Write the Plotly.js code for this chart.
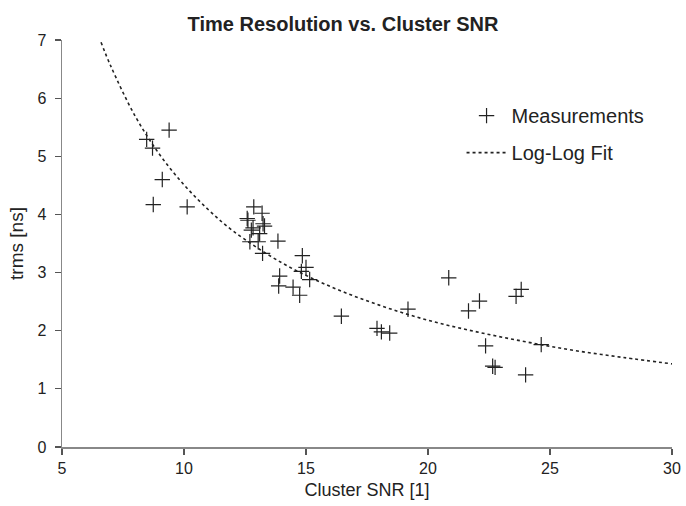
<!DOCTYPE html>
<html>
<head>
<meta charset="utf-8">
<script src="https://cdn.plot.ly/plotly-3.0.1.min.js"></script>
<style>html,body{margin:0;padding:0;background:#fff;}#chart{width:686px;height:506px;}</style>
</head>
<body>
<div id="chart"></div>
<script>
const snr = [9.39, 8.47, 8.71, 9.11, 8.74, 10.13,
  12.86, 13.20, 12.59, 13.24, 12.83, 12.76, 13.10, 12.70, 13.04, 13.85, 13.22, 12.62, 13.30,
  14.85, 15.00, 14.81, 15.15, 13.92, 13.88, 14.47, 14.74,
  16.45, 20.85, 19.18, 17.91, 18.09, 18.43,
  23.82, 23.61, 22.11, 21.66, 22.36, 22.65, 22.75, 24.00, 24.64];
const trms = [5.45, 5.29, 5.14, 4.60, 4.17, 4.13,
  4.13, 4.02, 3.93, 3.84, 3.77, 3.73, 3.67, 3.53, 3.53, 3.54, 3.33, 3.90, 3.80,
  3.29, 3.09, 3.02, 2.88, 2.94, 2.77, 2.75, 2.61,
  2.25, 2.91, 2.37, 2.04, 1.98, 1.96,
  2.71, 2.59, 2.51, 2.34, 1.74, 1.39, 1.37, 1.24, 1.76];
// Log-log fit curve
const fitX = [6.6, 7, 8, 9, 10, 11, 12, 14, 16, 18, 20, 22, 24, 26, 28, 30];
const fitY = [6.96, 6.55, 5.69, 5.03, 4.51, 4.08, 3.72, 3.17, 2.76, 2.44, 2.18, 1.98, 1.81, 1.66, 1.54, 1.43];
const xTicks = [5, 10, 15, 20, 25, 30];
const yTicks = [0, 1, 2, 3, 4, 5, 6, 7];

const font = 'Liberation Sans, Arial, Helvetica, sans-serif';
const ink = '#222';

const traces = [
  {x: snr, y: trms, type: 'scatter', mode: 'markers', name: 'Measurements', legendgroup: 'a',
   marker: {symbol: 'cross-thin-open', size: 11, color: ink, line: {width: 1.2, color: ink}}},
  {x: fitX, y: fitY, type: 'scatter', mode: 'lines', name: 'Log-Log Fit', legendgroup: 'b',
   line: {shape: 'spline', dash: '3px,3px', width: 1.6, color: ink}}
];

const axisCommon = {
  showgrid: false, zeroline: false, showline: true, linecolor: '#888', linewidth: 1.5,
  ticks: 'outside', ticklen: 6, tickcolor: '#555', tickwidth: 1.2,
  tickfont: {family: font, size: 16, color: ink}
};

const layout = {
  width: 686, height: 506,
  margin: {l: 62, r: 14, t: 40, b: 59},
  paper_bgcolor: '#fff', plot_bgcolor: '#fff',
  showlegend: true,
  title: {text: '<b>Time Resolution vs. Cluster SNR</b>', font: {family: font, size: 20, color: ink},
          x: 0.5, xref: 'container', xanchor: 'center', y: 0.952, yanchor: 'middle'},
  xaxis: Object.assign({}, axisCommon, {range: [5, 30], tickvals: xTicks,
    title: {text: 'Cluster SNR [1]', font: {family: font, size: 18, color: ink}, standoff: 7}}),
  yaxis: Object.assign({}, axisCommon, {range: [0, 7], tickvals: yTicks, ticklabelstandoff: 5,
    title: {text: 'trms [ns]', font: {family: font, size: 19, color: ink}, standoff: 8}}),
  legend: {x: 0.655, y: 0.862, xanchor: 'left', yanchor: 'top', bgcolor: 'rgba(0,0,0,0)',
    font: {family: font, size: 20, color: ink}, traceorder: 'grouped', tracegroupgap: 8, itemwidth: 40}
};

Plotly.newPlot('chart', traces, layout, {displayModeBar: false, staticPlot: true});
</script>
</body>
</html>
